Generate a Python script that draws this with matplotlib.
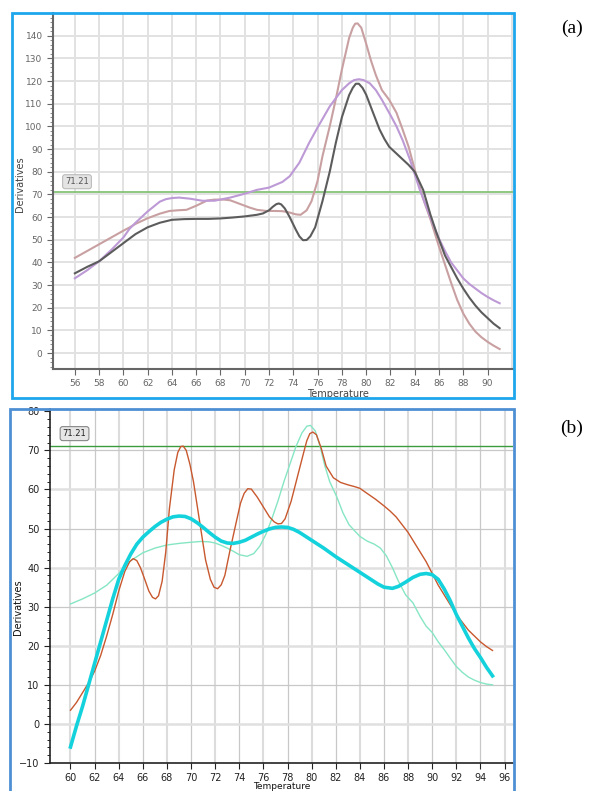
import matplotlib
matplotlib.use("Agg")
import matplotlib.pyplot as plt
from matplotlib.patches import Rectangle
from matplotlib.ticker import MultipleLocator

# ---- panel (a) data ----
a_dark_x = [56, 57, 58, 59, 60, 61, 62, 63, 64, 65, 66, 67, 68, 69, 70, 71, 71.5, 72, 72.3, 72.6,
            72.8, 73.0, 73.3, 73.7, 74.2, 74.5, 74.8, 75.1, 75.4, 75.8, 76.4, 77, 77.5, 78, 78.6,
            78.9, 79.15, 79.4, 79.7, 80, 80.5, 81.1, 81.5, 81.9, 82.5, 83, 83.5, 84, 84.7, 85.3,
            85.8, 86.5, 87.1, 87.5, 88, 88.5, 89, 89.5, 90, 90.5, 91]
a_dark_y = [35.2, 38, 40.5, 44.5, 48.5, 52.5, 55.5, 57.5, 58.8, 59.1, 59.2, 59.2, 59.4, 59.8, 60.3,
            61, 61.6, 63, 64.5, 65.7, 66, 65.6, 63.8, 60, 54.5, 51.5, 49.8, 49.9, 51.5, 55.5, 67, 80,
            92.7, 104, 113.8, 117, 118.8, 118.8, 117, 114, 107, 98.7, 94.5, 91, 88, 85.5, 83, 80,
            72, 61, 53, 43, 37, 33, 28.5, 24.5, 21, 18, 15.5, 13, 11]

a_pink_x = [56, 57, 58, 59, 60, 60.5, 61, 62, 63, 63.8, 64.5, 65.2, 66, 66.9, 67.5, 68.3, 68.8, 69.5,
            70.4, 71, 71.8, 72.5, 73.1, 73.7, 74.2, 74.6, 75.1, 75.5, 76, 76.4, 77, 77.5, 78, 78.6,
            78.9, 79.1, 79.3, 79.6, 80, 80.4, 80.8, 81.3, 81.9, 82.5, 83, 83.5, 84, 84.7, 85.3, 86,
            86.5, 87, 87.5, 88, 88.5, 89, 89.5, 90, 90.5, 91]
a_pink_y = [42, 45, 48, 51, 54, 55.4, 57, 59.5, 61.5, 62.7, 63, 63.2, 65, 67.3, 67.7, 67.7, 67.4, 66,
            64.2, 63.2, 62.7, 62.7, 62.6, 62, 61.2, 61, 63, 67, 76, 86.8, 100, 112, 125, 139,
            143.5, 145.3, 145.4, 143.5, 136.5, 129, 122.6, 116, 111.7, 106, 98.7, 91, 81, 68, 59,
            47, 39, 31, 23.5, 17.5, 13, 9.5, 7, 5, 3.3, 1.8]

a_purple_x = [56, 57, 58, 59, 60, 60.5, 61, 62, 63, 63.5, 64, 64.6, 65.5, 66.5, 67.5, 68.8, 70, 71,
              72, 73.1, 73.7, 74.5, 75.3, 76, 77, 78, 78.6, 79, 79.4, 79.8, 80.3, 80.8, 81.3, 82,
              82.5, 83, 83.6, 84.4, 85, 85.5, 86, 86.5, 87, 87.5, 88, 88.5, 89, 89.5, 90, 90.5, 91]
a_purple_y = [33, 36.5, 40.5, 45.5, 51, 54.8, 57.5, 62.5, 66.8, 67.9, 68.4, 68.6, 68.1, 67.2, 67.2,
              68.6, 70.3, 72, 73, 75.5, 78, 84, 92.7, 99.5, 108.8, 116, 119, 120.4, 120.8, 120.4,
              119, 116, 111.7, 105, 100, 94, 85.5, 72.4, 64, 57, 50.5, 45, 40, 36.5, 33, 30.5,
              28.5, 26.5, 24.8, 23.3, 22]

# ---- panel (b) data ----
b_red_x = [60, 60.5, 61, 61.5, 62, 62.5, 63, 63.5, 64, 64.5, 64.9, 65.2, 65.5, 65.8, 66.1, 66.5,
           66.8, 67.05, 67.3, 67.6, 67.9, 68.2, 68.6, 68.9, 69.15, 69.35, 69.6, 69.9, 70.2, 70.7,
           71.2, 71.6, 71.9, 72.2, 72.5, 72.8, 73.2, 73.7, 74.1, 74.4, 74.7, 75, 75.5, 76, 76.5,
           76.9, 77.2, 77.5, 77.8, 78.3, 78.8, 79.3, 79.6, 79.85, 80.1, 80.4, 80.8, 81.2, 81.8,
           82.4, 83, 83.6, 84, 84.6, 85.3, 86, 86.5, 87, 87.5, 88, 88.5, 89, 89.5, 90, 90.5, 91,
           91.5, 92, 92.5, 93, 93.5, 94, 94.5, 95]
b_red_y = [3.5, 5.5, 8, 10.5, 13.5, 17.5, 22.5, 28, 34, 39, 41.5, 42.3, 41.8, 40, 37.5, 34, 32.4,
           32, 32.8, 36.5, 44, 55, 65, 69.5, 71, 71.1, 70, 66.5, 62, 52, 42, 37, 35, 34.6, 35.6,
           38, 44, 51, 56.5, 59, 60.2, 60.1, 58, 55.5, 53, 51.7, 51.2, 51.3, 52.5, 57, 63, 69,
           72.5, 74.3, 74.7, 74, 70.5, 66, 63, 61.8, 61.2, 60.7, 60.3, 59, 57.5, 55.8, 54.5, 53,
           51, 49, 46.5, 44, 41.5, 38.5, 35.5, 33, 30.5, 28, 26, 24, 22.5, 21, 19.8, 18.8]

b_cyan_x = [60, 60.5, 61, 61.5, 62, 62.5, 63, 63.5, 64, 64.5, 65, 65.5, 66, 66.5, 67, 67.5, 68,
            68.5, 69, 69.5, 70, 70.5, 71, 71.5, 72, 72.5, 73, 73.5, 74, 74.5, 75, 75.5, 76, 76.5,
            77, 77.5, 78, 78.5, 79, 79.5, 80, 81, 82, 83, 84, 85, 85.5, 86, 86.7, 87.2, 87.8, 88.4,
            89, 89.5, 90, 90.5, 91, 91.5, 92, 92.5, 93, 93.5, 94, 94.5, 95]
b_cyan_y = [-5.9, -0.5, 4.5, 10, 15.5, 21, 26.5, 32, 37, 40.5, 43.5, 46, 47.8, 49.2, 50.5, 51.6,
            52.4, 53, 53.2, 53.1, 52.5, 51.5, 50.3, 49, 47.8, 46.8, 46.3, 46.2, 46.5, 47, 47.8,
            48.6, 49.3, 49.9, 50.3, 50.4, 50.3, 49.8, 49, 48, 47, 45, 42.8, 40.8, 38.8, 36.8, 35.8,
            35, 34.7, 35.2, 36.3, 37.5, 38.3, 38.5, 38.2, 37, 34.5, 31.5, 28, 25, 22, 19.3, 17,
            14.5, 12.3]

b_aqua_x = [60, 61, 62, 63, 64, 65, 66, 67, 68, 69, 70, 70.8, 71.5, 72, 72.5, 73, 73.5, 74, 74.65,
            75.2, 75.7, 76.2, 76.7, 77.2, 77.7, 78.2, 78.7, 79.2, 79.6, 79.9, 80.3, 80.7, 81.1,
            81.5, 82.1, 82.6, 83.1, 83.6, 84, 84.6, 85.2, 85.7, 86.2, 86.7, 87.2, 87.8, 88.4, 89,
            89.5, 90, 90.5, 91, 91.5, 92, 92.5, 93, 93.5, 94, 94.5, 95]
b_aqua_y = [30.7, 32, 33.5, 35.5, 38.5, 41.8, 43.8, 45, 45.8, 46.2, 46.5, 46.7, 46.6, 46.3, 45.7,
            45, 44.2, 43.3, 42.9, 43.6, 45.5, 48.5, 52.5, 57, 62, 66.5, 71, 74.5, 76.2, 76.4, 75,
            71, 66, 62, 58, 54, 51, 49.3, 48, 46.8, 46, 45, 43, 40, 36.5, 33, 31, 27.5, 25, 23.4,
            21, 19, 16.8, 14.7, 13.2, 12, 11.2, 10.6, 10.2, 10]

threshold = 71.21

W, H = 598, 791
fig = plt.figure(figsize=(W / 100, H / 100), dpi=100)


def fbox(x0, y0, x1, y1):
    # pixel box (top-left origin) -> figure fraction rect
    return [x0 / W, 1 - y1 / H, (x1 - x0) / W, (y1 - y0) / H]


# blue frames around the two screenshots
fig.patches.append(Rectangle((12 / W, 1 - 398 / H), 502 / W, 385 / H, transform=fig.transFigure,
                             fill=False, edgecolor="#1ea6ec", lw=2))
fig.patches.append(Rectangle((10 / W, -0.01), 504 / W, 1 - 409 / H + 0.01,
                             transform=fig.transFigure, fill=False, edgecolor="#4e8fd4", lw=2))

# ---------- (a) ----------
ax1 = fig.add_axes(fbox(53, 13, 513, 369))
ax1.set_xlim(54.2, 92.1)
ax1.set_ylim(-7, 150)
ax1.yaxis.set_minor_locator(MultipleLocator(2))
ax1.set_xticks(range(56, 91, 2))
ax1.set_yticks(range(0, 141, 10))
for xv in range(54, 93, 2):
    ax1.axvline(xv, color="#e2e2e2", lw=1.4, zorder=0)
for yv in range(0, 141, 10):
    ax1.axhline(yv, color="#e2e2e2", lw=1.4, zorder=0)
for s in ["top", "right"]:
    ax1.spines[s].set_visible(False)
for s in ["left", "bottom"]:
    ax1.spines[s].set_color("#666666")
    ax1.spines[s].set_linewidth(1.5)
ax1.tick_params(axis="both", which="major", labelsize=6.5, colors="#666666", length=4)
ax1.tick_params(axis="y", which="minor", length=2, colors="#777777")
ax1.axhline(threshold, color="#7cbf6c", lw=1.2)
ax1.plot(a_pink_x, a_pink_y, color="#c9a0a2", lw=1.5, solid_joinstyle="round")
ax1.plot(a_purple_x, a_purple_y, color="#bd9ad6", lw=1.5, solid_joinstyle="round")
ax1.plot(a_dark_x, a_dark_y, color="#5c5c5c", lw=1.5, solid_joinstyle="round")
ax1.text(55.2, 75.6, "71.21", fontsize=6, color="#555555", va="center", ha="left",
         bbox=dict(boxstyle="round,pad=0.3", fc="#e4e4e4", ec="#bbbbbb", lw=0.8))
ax1.set_ylabel("Derivatives", fontsize=7, color="#444444")
ax1.yaxis.set_label_coords(-0.06, 0.52)
ax1.set_xlabel("Temperature", fontsize=7, color="#444444")
ax1.xaxis.set_label_coords(0.62, -0.055)

# ---------- (b) ----------
ax2 = fig.add_axes(fbox(50, 409, 513, 763))
ax2.set_xlim(58.3, 96.7)
ax2.set_ylim(-10, 80.6)
ax2.set_xticks(range(60, 97, 2))
ax2.set_yticks(range(-10, 81, 10))
ax2.yaxis.set_minor_locator(MultipleLocator(2))
for xv in range(60, 97, 2):
    ax2.axvline(xv, color="#c8c8c8" if xv % 4 else "#dcdcdc", lw=0.9 if xv % 4 else 1.5, zorder=0)
for yv in range(0, 80, 10):
    ax2.axhline(yv, color="#c8c8c8" if yv % 20 else "#e0e0e0", lw=0.9 if yv % 20 else 1.8, zorder=0)
for s in ["top", "right"]:
    ax2.spines[s].set_visible(False)
for s in ["left", "bottom"]:
    ax2.spines[s].set_color("#222222")
    ax2.spines[s].set_linewidth(1.2)
ax2.tick_params(axis="both", which="major", labelsize=7, colors="#222222", length=4)
ax2.tick_params(axis="y", which="minor", length=2)
ax2.axhline(threshold, color="#3e9a3e", lw=1.0)
ax2.plot(b_aqua_x, b_aqua_y, color="#86e6c4", lw=1.0, solid_joinstyle="round")
ax2.plot(b_red_x, b_red_y, color="#c8582e", lw=1.0, solid_joinstyle="round")
ax2.plot(b_cyan_x, b_cyan_y, color="#14d2dc", lw=2.6, solid_joinstyle="round")
ax2.text(59.35, 74.3, "71.21", fontsize=6, color="#222222", va="center", ha="left",
         bbox=dict(boxstyle="round,pad=0.3", fc="#e6e6e6", ec="#888888", lw=0.8))
ax2.set_ylabel("Derivatives", fontsize=7, color="#111111")
ax2.yaxis.set_label_coords(-0.058, 0.44)
ax2.set_xlabel("Temperature", fontsize=6.5, color="#111111")
ax2.xaxis.set_label_coords(0.5, -0.055)

fig.text(572 / W, 1 - 28 / H, "(a)", fontsize=14, family="Liberation Serif", ha="center", va="center")
fig.text(572 / W, 1 - 428 / H, "(b)", fontsize=14, family="Liberation Serif", ha="center", va="center")

fig.savefig("out.png", dpi=100)
